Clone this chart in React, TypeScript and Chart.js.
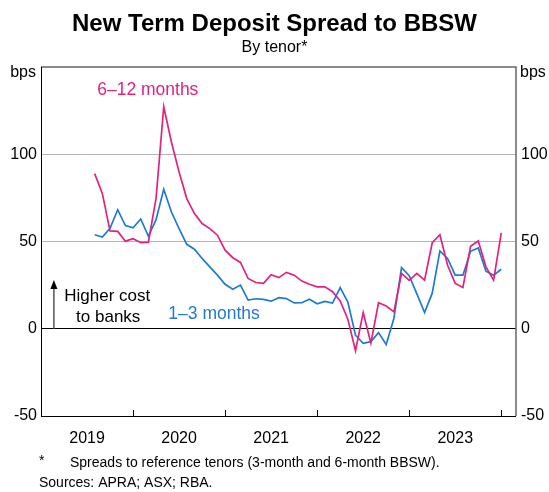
import React, { useEffect, useRef } from "react";
import Chart from "chart.js/auto";

const months: string[] = [
  "2019-08", "2019-09", "2019-10", "2019-11", "2019-12",
  "2020-01", "2020-02", "2020-03", "2020-04", "2020-05", "2020-06", "2020-07", "2020-08", "2020-09", "2020-10", "2020-11", "2020-12",
  "2021-01", "2021-02", "2021-03", "2021-04", "2021-05", "2021-06", "2021-07", "2021-08", "2021-09", "2021-10", "2021-11", "2021-12",
  "2022-01", "2022-02", "2022-03", "2022-04", "2022-05", "2022-06", "2022-07", "2022-08", "2022-09", "2022-10", "2022-11", "2022-12",
  "2023-01", "2023-02", "2023-03", "2023-04", "2023-05", "2023-06", "2023-07", "2023-08", "2023-09", "2023-10", "2023-11", "2023-12",
  "2024-01",
];

const sixToTwelve: number[] = [
  88.9, 77.4, 56.1, 55.8, 50.2, 51.6, 49.3, 49.6, 74.8, 127.2,
  107, 89.8, 74.6, 66, 60.3, 57.4, 53.6, 45, 40.7, 38,
  28.8, 26.5, 26, 31, 29.3, 32.3, 30.7, 27.3, 25.5, 24,
  24, 21.2, 16, 5.5, -12.6, 9.3, -8.2, 14.9, 13, 9.7,
  31.7, 27.7, 31.7, 27.9, 49.3, 53.9, 36.4, 26, 23.7, 47.3,
  50.3, 35.5, 27.9, 54.9,
];

const oneToThree: number[] = [
  53.9, 52.5, 57.6, 68.2, 59.1, 57.8, 62.9, 53, 62.5, 79.9,
  66.9, 57.4, 48.4, 45.6, 40.3, 35.5, 30.7, 25.5, 22.6, 25,
  16.4, 17.2, 16.8, 15.8, 17.8, 17.3, 14.8, 14.9, 16.9, 14.3,
  15.7, 14.7, 23.6, 15.3, -3.7, -8.4, -7.4, -2.2, -9, 5.9,
  35, 30.4, 20, 9.3, 20.4, 44.6, 40.3, 30.7, 30.7, 44.4,
  46.3, 33, 30.7, 34.1,
];

const yearLabels: number[] = [2019, 2020, 2021, 2022, 2023];
const yearBoundaries: number[] = [2020, 2021, 2022, 2023, 2024];
const yTicks: number[] = [-50, 0, 50, 100, 150];

const PINK = "#e2227e";
const BLUE = "#1f7bd0";
const FONT = "'Liberation Sans', Arial, sans-serif";

function toDecimalYear(m: string): number {
  const [y, mo] = m.split("-").map(Number);
  return y + (mo - 1) / 12;
}

const overlay = {
  id: "overlay",
  afterDraw(chart: any) {
    const ctx = chart.ctx as CanvasRenderingContext2D;
    const { left, right, top, bottom } = chart.chartArea;
    const xs = chart.scales.x;
    const ys = chart.scales.y;
    ctx.save();

    // frame top and right
    ctx.strokeStyle = "#666";
    ctx.lineWidth = 1.5;
    ctx.beginPath();
    ctx.moveTo(left, top);
    ctx.lineTo(right, top);
    ctx.lineTo(right, bottom);
    ctx.stroke();
    ctx.strokeStyle = "#000";
    ctx.lineWidth = 1;
    ctx.beginPath();
    ctx.moveTo(left, bottom + 0.5);
    ctx.lineTo(right, bottom + 0.5);
    ctx.moveTo(left + 0.5, top);
    ctx.lineTo(left + 0.5, bottom);
    ctx.stroke();

    // inward year ticks
    ctx.strokeStyle = "#000";
    ctx.lineWidth = 1;
    ctx.beginPath();
    yearBoundaries.forEach((yr) => {
      const px = Math.round(xs.getPixelForValue(yr)) + 0.5;
      ctx.moveTo(px, bottom);
      ctx.lineTo(px, bottom - 6);
    });
    ctx.stroke();

    // arrow
    const ax = xs.getPixelForValue(2019.14);
    const ay0 = ys.getPixelForValue(0);
    const ay1 = ys.getPixelForValue(27.9);
    ctx.strokeStyle = "#555";
    ctx.lineWidth = 1.5;
    ctx.beginPath();
    ctx.moveTo(ax, ay0);
    ctx.lineTo(ax, ay1 + 6);
    ctx.stroke();
    ctx.fillStyle = "#000";
    ctx.beginPath();
    ctx.moveTo(ax, ay1);
    ctx.lineTo(ax - 3.5, ay1 + 9);
    ctx.lineTo(ax + 3.5, ay1 + 9);
    ctx.closePath();
    ctx.fill();

    // annotations
    ctx.textAlign = "center";
    ctx.textBaseline = "middle";
    ctx.font = `17.5px ${FONT}`;
    ctx.fillStyle = PINK;
    ctx.fillText("6–12 months", xs.getPixelForValue(2020.16), ys.getPixelForValue(136.5));
    ctx.fillStyle = BLUE;
    ctx.fillText("1–3 months", xs.getPixelForValue(2020.88), ys.getPixelForValue(8.4));
    ctx.fillStyle = "#000";
    ctx.font = `17px ${FONT}`;
    ctx.fillText("Higher cost", xs.getPixelForValue(2019.72), ys.getPixelForValue(18.6));
    ctx.fillText("to banks", xs.getPixelForValue(2019.73), ys.getPixelForValue(6.6));

    // titles
    ctx.fillStyle = "#000";
    ctx.font = `bold 24px ${FONT}`;
    ctx.fillText("New Term Deposit Spread to BBSW", chart.width / 2, 24);
    ctx.font = `16px ${FONT}`;
    ctx.fillText("By tenor*", chart.width / 2, 48);

    // units
    ctx.font = `16px ${FONT}`;
    ctx.textAlign = "right";
    ctx.fillText("bps", left - 5, 73);
    ctx.textAlign = "left";
    ctx.fillText("bps", right + 4, 73);

    // footnotes
    ctx.font = `14px ${FONT}`;
    ctx.fillText("*", 39, 461);
    ctx.fillText("Spreads to reference tenors (3-month and 6-month BBSW).", 70, 463);
    ctx.fillText("Sources: APRA; ASX; RBA.", 39, 483);

    ctx.restore();
  },
};

export default function App() {
  const ref = useRef<HTMLCanvasElement | null>(null);

  useEffect(() => {
    if (!ref.current) return;
    const xVals = months.map(toDecimalYear);
    const chart = new Chart(ref.current, {
      type: "line",
      data: {
        datasets: [
          {
            label: "6–12 months",
            data: xVals.map((x, i) => ({ x, y: sixToTwelve[i] })),
            borderColor: PINK,
            borderWidth: 1.7,
            pointRadius: 0,
            tension: 0,
          },
          {
            label: "1–3 months",
            data: xVals.map((x, i) => ({ x, y: oneToThree[i] })),
            borderColor: BLUE,
            borderWidth: 1.7,
            pointRadius: 0,
            tension: 0,
          },
        ],
      },
      options: {
        responsive: false,
        animation: false,
        events: [],
        layout: { padding: { top: 67, left: 0, right: 0, bottom: 0 } },
        plugins: {
          legend: { display: false },
          title: { display: false },
          tooltip: { enabled: false },
        },
        scales: {
          x: {
            type: "linear",
            min: 2019,
            max: 2024.16,
            afterBuildTicks: (scale: any) => {
              scale.ticks = yearLabels.map((y) => ({ value: y + 0.5 }));
            },
            afterFit: (scale: any) => {
              scale.height = 76;
            },
            ticks: {
              autoSkip: false,
              maxRotation: 0,
              padding: 13,
              color: "#000",
              font: { family: FONT, size: 16 },
              callback: (v: any) => String(Math.floor(Number(v))),
            },
            grid: { display: false, drawTicks: false },
            border: { display: false },
          },
          y: {
            position: "left",
            min: -50,
            max: 150,
            afterBuildTicks: (scale: any) => {
              scale.ticks = yTicks.map((v) => ({ value: v }));
            },
            afterFit: (scale: any) => {
              scale.width = 41;
            },
            ticks: {
              padding: 4,
              color: "#000",
              font: { family: FONT, size: 16 },
              callback: (v: any) => (Number(v) === 150 ? "" : String(v)),
            },
            grid: {
              drawTicks: false,
              color: (c: any) => {
                const v = c.tick?.value;
                if (v === 0) return "#000";
                if (v === 50 || v === 100) return "#b4b4b4";
                return "rgba(0,0,0,0)";
              },
              lineWidth: 1,
            },
            border: { display: false },
          },
          y2: {
            position: "right",
            min: -50,
            max: 150,
            afterBuildTicks: (scale: any) => {
              scale.ticks = yTicks.map((v) => ({ value: v }));
            },
            afterFit: (scale: any) => {
              scale.width = 33;
            },
            ticks: {
              padding: 5,
              color: "#000",
              font: { family: FONT, size: 16 },
              callback: (v: any) => (Number(v) === 150 ? "" : String(v)),
            },
            grid: { display: false, drawTicks: false },
            border: { display: false },
          },
        },
      },
      plugins: [overlay],
    });
    return () => chart.destroy();
  }, []);

  return (
    <div style={{ position: "fixed", left: 0, top: 0, width: 549, height: 492, background: "#fff" }}>
      <canvas ref={ref} width={549} height={492} style={{ display: "block" }} />
    </div>
  );
}
